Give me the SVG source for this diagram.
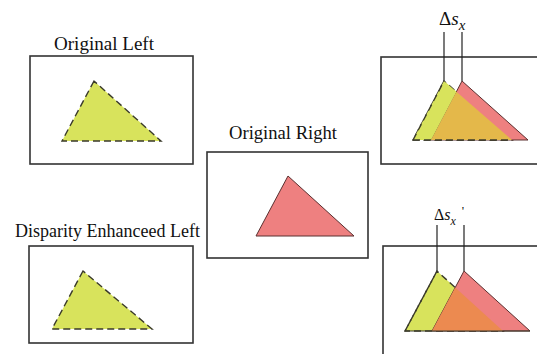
<svg xmlns="http://www.w3.org/2000/svg" width="537" height="354" viewBox="0 0 537 354">
  <style>
    .box { fill: #ffffff; stroke: #333333; stroke-width: 1.6; }
    .lbl { font-family: "Liberation Serif", "DejaVu Serif", serif; font-size: 18px; fill: #111111; }
    .yel { fill: #d8e35c; stroke: #3a3a2a; stroke-width: 1.4; stroke-dasharray: 7 4; }
    .red { fill: #ee8080; stroke: #5a3030; stroke-width: 1; }
    .ovt { fill: #e4b84a; stroke: none; }
    .ovb { fill: #ec8a50; stroke: none; }
    .lead { stroke: #222222; stroke-width: 1.2; fill: none; }
    .math { font-family: "Liberation Serif", "DejaVu Serif", serif; fill: #111111; }
  </style>
  <rect width="537" height="354" fill="#ffffff"/>

  <g id="original-left">
    <text class="lbl" x="54" y="50" textLength="100" lengthAdjust="spacingAndGlyphs">Original Left</text>
    <rect class="box" x="30" y="56" width="163" height="108"/>
    <polygon class="yel" points="94,81 62,141 161,141"/>
  </g>

  <g id="disparity-enhanced-left">
    <text class="lbl" x="15" y="237" textLength="185" lengthAdjust="spacingAndGlyphs">Disparity Enhanceed Left</text>
    <rect class="box" x="29" y="246" width="164" height="97"/>
    <polygon class="yel" points="83,271 52,329 152,329"/>
  </g>

  <g id="original-right">
    <text class="lbl" x="229" y="139" textLength="108" lengthAdjust="spacingAndGlyphs">Original Right</text>
    <rect class="box" x="207" y="152" width="161" height="106"/>
    <polygon class="red" points="288,176 256,236 354,236"/>
  </g>

  <g id="overlay-top">
    <rect class="box" x="381" y="57" width="170" height="107"/>
    <polygon class="yel" points="444,81 413,140 512,140"/>
    <polygon class="red" points="462,81 431,140 528,140"/>
    <polygon class="ovt" points="456.4,91.7 431,140 512,140"/>
    <polygon points="444,81 413,140 431,140 456.4,91.7" fill="#d8e35c"/>
    <polyline points="413,140 444,81" fill="none" stroke="#3a3a2a" stroke-width="1.4" stroke-dasharray="7 4"/>
    <line x1="413" y1="140" x2="512" y2="140" stroke="#3a3a2a" stroke-width="1.4" stroke-dasharray="7 4"/>
    <text class="math" x="439" y="25" font-size="19">Δ<tspan font-style="italic">s</tspan><tspan font-style="italic" font-size="15" dy="5">x</tspan></text>
  </g>

  <g id="overlay-bottom">
    <rect class="box" x="383" y="246" width="170" height="120"/>
    <polygon class="yel" points="437,271 405,331 503,331"/>
    <polygon class="red" points="464,271 432,331 530,331"/>
    <polygon class="ovb" points="455.2,287.5 432,331 503,331"/>
    <polyline points="405,331 437,271" fill="none" stroke="#3a3a2a" stroke-width="1.4" stroke-dasharray="7 4"/>
    <line x1="405" y1="331" x2="530" y2="331" stroke="#3a3a2a" stroke-width="1.2"/>
    <text class="math" x="434" y="220" font-size="16">Δ<tspan font-style="italic">s</tspan><tspan font-style="italic" font-size="12" dy="5">x</tspan><tspan font-size="13" dx="6" dy="-10">'</tspan></text>
  </g>

  <g id="connectors">
    <line class="lead" x1="444" y1="32" x2="444" y2="81"/>
    <line class="lead" x1="462" y1="32" x2="462" y2="81"/>
    <line class="lead" x1="437" y1="225" x2="437" y2="271"/>
    <line class="lead" x1="464" y1="225" x2="464" y2="271"/>
  </g>
</svg>
